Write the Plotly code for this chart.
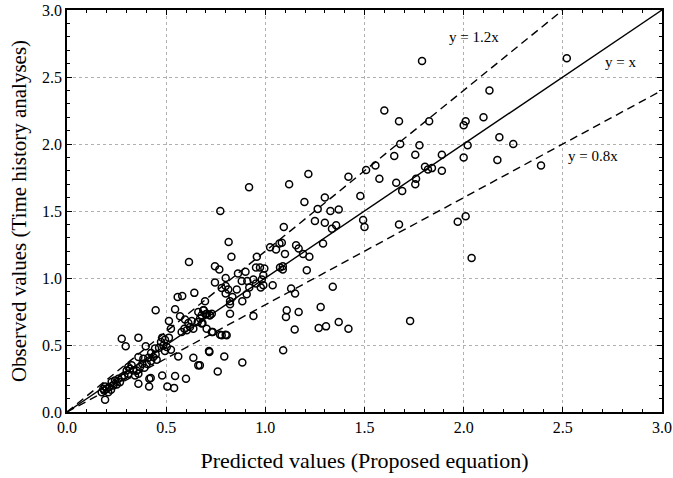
import plotly.graph_objects as go

# Predicted (proposed equation) vs observed (time history analyses)
predicted = [
    1.79, 2.52, 2.13, 2.10, 2.00, 2.01, 2.18, 2.25, 2.02, 2.00, 2.17, 2.39, 2.01,
    1.60, 1.674, 1.826, 1.555, 1.65, 1.68, 1.756, 1.777, 1.89, 1.575, 1.66, 1.69,
    1.756, 1.76, 1.805, 1.82, 1.84, 1.89, 1.674, 1.97, 2.04, 1.73,
    0.918, 1.12, 1.217, 1.419, 1.508, 0.773, 1.197, 1.30, 1.264, 1.328, 1.37,
    1.25, 1.30, 1.357, 1.336, 1.479, 1.493, 1.50, 1.093, 0.815, 0.829, 1.024,
    1.054, 1.071, 1.083, 1.099, 1.155, 1.168, 1.19, 1.222, 1.291, 1.209, 0.957,
    0.746, 0.768, 0.80, 0.862, 0.90, 0.953, 0.973, 0.995, 0.99, 0.982, 1.074,
    1.088, 1.088, 1.037, 0.746, 0.78, 0.80, 0.813, 0.80, 0.834, 0.856, 0.881,
    0.909, 0.906, 0.919, 0.94, 0.953, 0.977, 0.99, 0.884, 0.822, 0.822, 0.822,
    0.94, 0.696, 0.69, 0.70, 0.72, 0.73, 0.679, 0.704, 0.735, 0.772, 0.80,
    1.34, 1.13, 1.15, 1.108, 1.104, 1.168, 1.279, 1.37, 1.419, 1.306, 1.269,
    1.148, 1.09, 0.718, 0.793, 0.884, 0.76, 0.67,
    0.615, 0.558, 0.581, 0.642, 0.447, 0.545, 0.514, 0.57, 0.524, 0.595, 0.612,
    0.629, 0.62, 0.592, 0.578, 0.604, 0.637, 0.662, 0.687, 0.679, 0.671, 0.705,
    0.721, 0.659, 0.683, 0.73, 0.78, 0.805, 0.276, 0.296, 0.36, 0.397, 0.444,
    0.474, 0.494, 0.514, 0.486, 0.464, 0.503, 0.524, 0.494, 0.48, 0.424, 0.435,
    0.41, 0.447, 0.452, 0.424, 0.385, 0.402, 0.38, 0.368, 0.39, 0.36, 0.561,
    0.637, 0.662, 0.716, 0.309, 0.326, 0.301, 0.318, 0.334, 0.309, 0.289,
    0.351, 0.343, 0.36, 0.276, 0.259, 0.267, 0.242, 0.251, 0.225, 0.234, 0.212,
    0.222, 0.20, 0.208, 0.188, 0.192, 0.175, 0.183, 0.192, 0.36, 0.415, 0.414,
    0.48, 0.506, 0.54, 0.545, 0.60, 0.422,
]
observed = [
    2.62, 2.64, 2.40, 2.20, 2.14, 2.17, 2.05, 2.00, 1.99, 1.90, 1.88, 1.84, 1.46,
    2.25, 2.17, 2.17, 1.84, 1.91, 2.00, 1.92, 1.99, 1.92, 1.74, 1.71, 1.65,
    1.70, 1.74, 1.83, 1.81, 1.82, 1.80, 1.40, 1.42, 1.15, 0.68,
    1.677, 1.70, 1.776, 1.756, 1.806, 1.50, 1.567, 1.60, 1.515, 1.50, 1.512,
    1.425, 1.412, 1.393, 1.367, 1.612, 1.432, 1.38, 1.38, 1.268, 1.158, 1.23,
    1.213, 1.258, 1.263, 1.18, 1.245, 1.22, 1.18, 1.158, 1.258, 1.058, 1.158,
    1.088, 1.063, 1.00, 1.034, 1.046, 1.078, 1.078, 1.071, 1.02, 0.989, 1.078,
    1.088, 1.063, 0.946, 0.966, 0.926, 0.94, 0.914, 0.884, 0.859, 0.914, 0.978,
    0.978, 0.879, 0.929, 0.989, 0.959, 0.929, 0.946, 0.826, 0.826, 0.804, 0.734,
    0.717, 0.826, 0.759, 0.729, 0.722, 0.734, 0.66, 0.622, 0.597, 0.577, 0.577,
    0.934, 0.921, 0.884, 0.759, 0.709, 0.746, 0.784, 0.672, 0.622, 0.639, 0.627,
    0.615, 0.46, 0.447, 0.415, 0.37, 0.303, 0.348,
    1.12, 0.859, 0.866, 0.889, 0.759, 0.767, 0.679, 0.714, 0.622, 0.69, 0.664,
    0.679, 0.634, 0.622, 0.597, 0.61, 0.622, 0.746, 0.759, 0.722, 0.697, 0.734,
    0.722, 0.672, 0.664, 0.597, 0.572, 0.572, 0.547, 0.49, 0.555, 0.49, 0.473,
    0.522, 0.54, 0.555, 0.497, 0.48, 0.485, 0.465, 0.455, 0.555, 0.44, 0.41,
    0.405, 0.43, 0.39, 0.38, 0.398, 0.36, 0.36, 0.335, 0.33, 0.41, 0.415,
    0.405, 0.348, 0.455, 0.335, 0.348, 0.31, 0.323, 0.31, 0.286, 0.273,
    0.31, 0.273, 0.286, 0.26, 0.248, 0.223, 0.236, 0.206, 0.223, 0.198, 0.185,
    0.166, 0.174, 0.148, 0.161, 0.19, 0.148, 0.174, 0.091, 0.21, 0.248, 0.19,
    0.273, 0.19, 0.18, 0.268, 0.248, 0.253,
]

# Reference lines y = k * x
ratios = [1.0, 1.2, 0.8]
ratio_labels = ["y = x", "y = 1.2x", "y = 0.8x"]
axis_max = 3.0
tick_values = [0.0, 0.5, 1.0, 1.5, 2.0, 2.5, 3.0]
tick_labels = ["0.0", "0.5", "1.0", "1.5", "2.0", "2.5", "3.0"]

FONT = "Liberation Serif, Times New Roman, serif"

fig = go.Figure()

for k in ratios:
    x_end = min(axis_max, axis_max / k)
    fig.add_trace(go.Scatter(
        x=[0, x_end], y=[0, k * x_end], mode="lines",
        line=dict(color="black", width=1.4,
                  dash="solid" if k == 1.0 else "8px,5px"),
        hoverinfo="skip", showlegend=False,
    ))

fig.add_trace(go.Scatter(
    x=predicted, y=observed, mode="markers",
    marker=dict(symbol="circle-open", size=7, color="black",
                line=dict(color="black", width=1.5)),
    showlegend=False,
))

# Line labels
label_pos = {
    "y = 1.2x": (2.05, 2.80),
    "y = x": (2.79, 2.61),
    "y = 0.8x": (2.65, 1.91),
}
for text in ratio_labels:
    lx, ly = label_pos[text]
    fig.add_annotation(x=lx, y=ly, text=text, showarrow=False,
                       font=dict(family=FONT, size=15, color="black"))

axis_common = dict(
    range=[0, axis_max], tickvals=tick_values, ticktext=tick_labels,
    showline=True, linecolor="black", linewidth=1.5, mirror="ticks",
    ticks="inside", ticklen=5, tickwidth=1, tickcolor="black",
    minor=dict(dtick=0.1, ticks="inside", ticklen=3, tickwidth=1,
               tickcolor="black", showgrid=False),
    showgrid=True, gridcolor="#b0b0b0", gridwidth=1, griddash="dot",
    zeroline=False, tickfont=dict(family=FONT, size=16, color="black"),
    automargin=False,
)

fig.update_xaxes(**axis_common,
                 title=dict(text="Predicted values (Proposed equation)",
                            font=dict(family=FONT, size=22, color="black"),
                            standoff=18))
fig.update_yaxes(**axis_common,
                 title=dict(text="Observed values (Time history analyses)",
                            font=dict(family=FONT, size=21, color="black"),
                            standoff=10))

fig.update_layout(
    width=673, height=478,
    margin=dict(l=67, r=11, t=10, b=66),
    plot_bgcolor="white", paper_bgcolor="white",
)

fig.write_html("out.html")
